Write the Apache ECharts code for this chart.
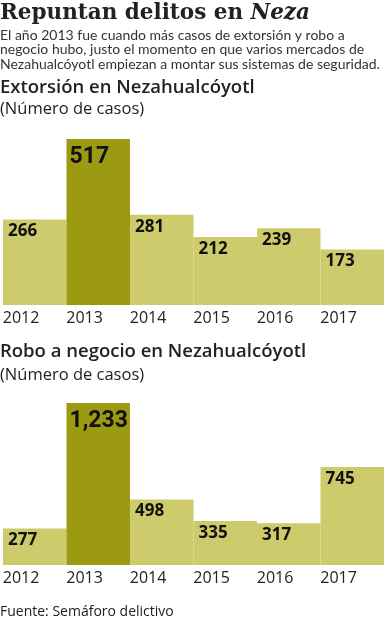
<!DOCTYPE html>
<html><head><meta charset="utf-8">
<script src="https://cdn.jsdelivr.net/npm/echarts@6/dist/echarts.min.js"></script>
<style>html,body{margin:0;padding:0;background:#fff}#c{width:384px;height:620px}</style>
</head><body><div id="c"></div>
<script>
var years = ['2012','2013','2014','2015','2016','2017'];
var extorsion = [266, 517, 281, 212, 239, 173];
var robo = [277, 1233, 498, 335, 317, 745];
var peakIndex = 1;

var LIGHT = '#cdcb6b', DARK = '#9c9a10';
function fmt(v){ return v.toLocaleString('en-US'); }
function mkData(arr){
  return arr.map(function(v,i){
    var d = {value:v, itemStyle:{color: i===peakIndex?DARK:LIGHT}};
    if(i===peakIndex){
      d.label = {position:[3,18], fontFamily:'Roboto', fontWeight:'bold', fontSize:23, color:'#111'};
    }
    return d;
  });
}
function xAx(idx){
  return {type:'category', gridIndex:idx, data:years, axisLine:{show:false}, axisTick:{show:false},
    axisLabel:{interval:0, margin:5, formatter:function(v){return '{a|'+v+'}';},
      rich:{a:{width:64, align:'left', fontFamily:'"Open Sans"', fontSize:16, color:'#222'}}}};
}
function yAx(idx){
  return {type:'value', gridIndex:idx, min:0, max:'dataMax', show:false, splitLine:{show:false}};
}
function ser(idx, arr){
  return {type:'bar', xAxisIndex:idx, yAxisIndex:idx, data:mkData(arr), barWidth:'100%', barCategoryGap:0,
    silent:true, animation:false,
    label:{show:true, position:[5,12], align:'left', verticalAlign:'middle', formatter:function(p){return fmt(p.value);},
      fontFamily:'"Open Sans"', fontWeight:'bold', fontSize:17, color:'#111'}};
}
var chart = echarts.init(document.getElementById('c'), null, {renderer:'canvas'});
chart.setOption({
  animation:false,
  grid:[{left:0,right:0,top:139,bottom:315},{left:0,right:0,top:403,bottom:55}],
  xAxis:[xAx(0), xAx(1)],
  yAxis:[yAx(0), yAx(1)],
  series:[ser(0, extorsion), ser(1, robo)],
  graphic:[
    {type:'text', x:0, y:13, silent:true, style:{text:'{a|Repuntan delitos en }{b|Neza}', verticalAlign:'middle',
      rich:{a:{fontFamily:'"DejaVu Serif"', fontWeight:'bold', fontSize:21.5, fill:'#222'},
            b:{fontFamily:'"DejaVu Serif"', fontWeight:'bold', fontStyle:'italic', fontSize:21.5, fill:'#222'}}}},
    {type:'text', x:0, y:28, silent:true, style:{text:'El año 2013 fue cuando más casos de extorsión y robo a\nnegocio hubo, justo el momento en que varios mercados de\nNezahualcóyotl empiezan a montar sus sistemas de seguridad.',
      font:'14px Lato', fill:'#333', lineHeight:14.6, verticalAlign:'top'}},
    {type:'text', x:0, y:88, silent:true, style:{text:'Extorsión en Nezahualcóyotl', font:'600 18.5px "Open Sans"', fill:'#222', verticalAlign:'middle'}},
    {type:'text', x:0, y:109, silent:true, style:{text:'(Número de casos)', font:'16.5px "Open Sans"', fill:'#222', verticalAlign:'middle'}},
    {type:'text', x:0, y:352, silent:true, style:{text:'Robo a negocio en Nezahualcóyotl', font:'600 18.5px "Open Sans"', fill:'#222', verticalAlign:'middle'}},
    {type:'text', x:0, y:375, silent:true, style:{text:'(Número de casos)', font:'16.5px "Open Sans"', fill:'#222', verticalAlign:'middle'}},
    {type:'text', x:0, y:612, silent:true, style:{text:'Fuente: Semáforo delictivo', font:'14px "Open Sans"', fill:'#222', verticalAlign:'middle'}}
  ]
});
</script></body></html>
